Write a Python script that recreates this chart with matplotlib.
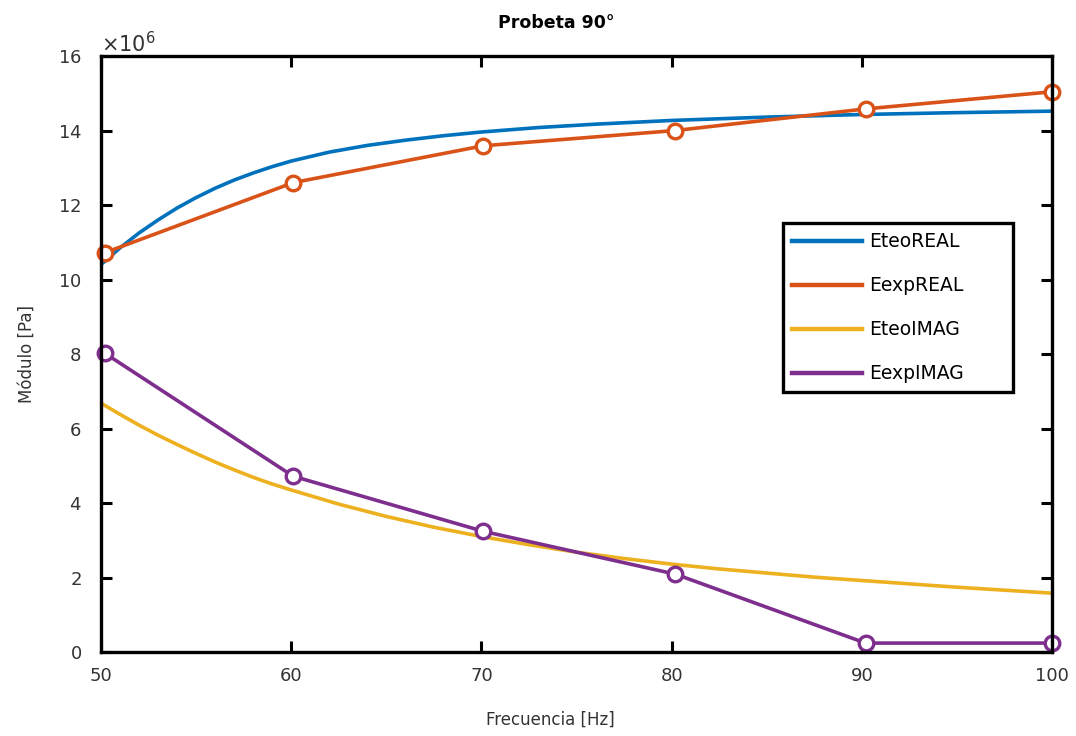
import numpy as np
import matplotlib
matplotlib.use('Agg')
import matplotlib.pyplot as plt
from matplotlib.lines import Line2D

# Frecuencias de ensayo y resultados experimentales (x 1e6 Pa)
frec_exp = [50.2, 60.1, 70.1, 80.2, 90.2, 100.0]
e_exp_real = [10.72, 12.6, 13.59, 14.0, 14.58, 15.04]
e_exp_imag = [8.02, 4.72, 3.24, 2.09, 0.24, 0.24]

# Modelo teorico (x 1e6 Pa)
frec_teo = [50, 51, 52, 53, 54, 55, 56, 57, 58, 59, 60, 62, 64, 66, 68, 70,
            73, 76, 80, 85, 90, 95, 100]
e_teo_real = [10.4, 10.85, 11.25, 11.6, 11.92, 12.2, 12.45, 12.67, 12.86,
              13.03, 13.18, 13.42, 13.6, 13.74, 13.86, 13.96, 14.08, 14.17,
              14.27, 14.36, 14.43, 14.48, 14.52]
frec_teo_i = [50, 51, 52, 53, 54, 55, 56, 57, 58, 59, 60, 62.5, 65, 67.5, 70,
              72.5, 75, 77.5, 80, 82.5, 85, 87.5, 90, 92.5, 95, 97.5, 100]
e_teo_imag = [6.68, 6.38, 6.09, 5.82, 5.57, 5.33, 5.1, 4.89, 4.69, 4.51, 4.35,
              3.97, 3.64, 3.35, 3.1, 2.88, 2.68, 2.51, 2.36, 2.23, 2.12, 2.01,
              1.92, 1.83, 1.74, 1.66, 1.58]

etiquetas = ['EteoREAL', 'EexpREAL', 'EteoIMAG', 'EexpIMAG']
colores = ['#0072BD', '#D95319', '#EDB120', '#7E2F8E']

escala = 1e6
gris = '#333333'

fig = plt.figure(figsize=(10.76, 7.36), dpi=100)
ax = fig.add_axes([0.0939, 0.1141, 0.8838, 0.8098])

ax.plot(frec_teo, np.array(e_teo_real) * escala, color=colores[0], lw=2.6)
ax.plot(frec_exp, np.array(e_exp_real) * escala, color=colores[1], lw=2.6,
        marker='o', ms=10.5, mfc='white', mew=2.4, clip_on=False)
ax.plot(frec_teo_i, np.array(e_teo_imag) * escala, color=colores[2], lw=2.6)
ax.plot(frec_exp, np.array(e_exp_imag) * escala, color=colores[3], lw=2.6,
        marker='o', ms=10.5, mfc='white', mew=2.4, clip_on=False)

ax.set_xlim(50, 100)
ax.set_ylim(0, 16e6)
ax.set_xticks([50, 60, 70, 80, 90, 100])
ax.set_yticks(np.arange(0, 17e6, 2e6))
ax.ticklabel_format(axis='y', style='sci', scilimits=(6, 6), useMathText=True)
offset = ax.yaxis.get_offset_text()
offset.set_fontsize(15)
offset.set_color(gris)

for s in ax.spines.values():
    s.set_linewidth(2.4)
ax.tick_params(direction='in', length=8, width=2.2, top=True, right=True,
               labelsize=13, labelcolor=gris)
ax.tick_params(axis='y', pad=14)
ax.tick_params(axis='x', pad=11)

ax.set_title('Probeta 90°', fontsize=12.5, fontweight='bold', x=0.479, pad=20)
ax.set_xlabel('Frecuencia [Hz]', fontsize=12, color=gris, x=0.473, labelpad=18)
ax.set_ylabel('Módulo [Pa]', fontsize=12, color=gris, labelpad=16)

handles = [Line2D([], [], color=c, lw=3.2) for c in colores]
leg = ax.legend(handles, etiquetas, loc='upper left',
                bbox_to_anchor=(0.717, 0.436, 0.242, 0.284), mode='expand',
                borderaxespad=0, fontsize=13.5, handlelength=3.7,
                handletextpad=0.4, labelspacing=1.33, borderpad=0.5,
                fancybox=False, framealpha=1, edgecolor='black')
leg.get_frame().set_linewidth(2.4)

plt.savefig('out.png', dpi=100)
